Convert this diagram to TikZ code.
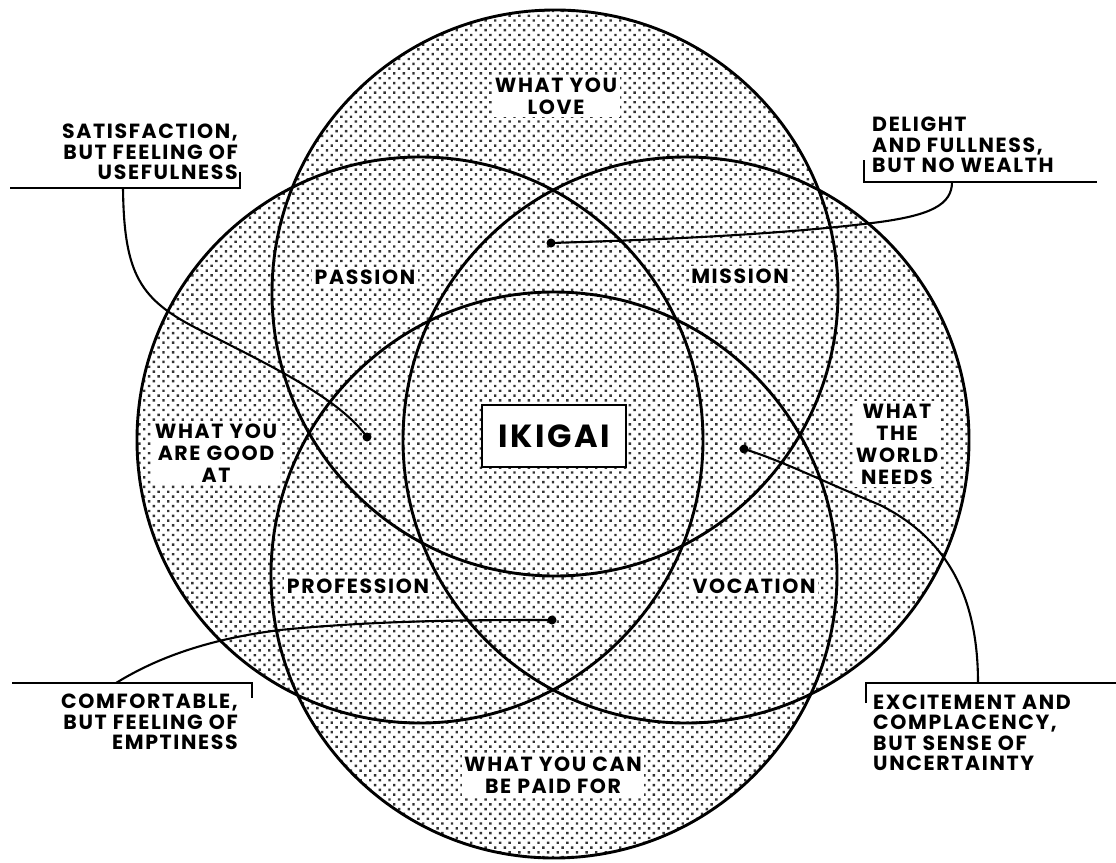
\documentclass[tikz,border=0pt]{standalone}
\usepackage{fontspec}
\setmainfont{Poppins}
\newfontfamily\hand[LetterSpace=8]{Poppins}
\usetikzlibrary{patterns.meta}
\begin{document}
\begin{tikzpicture}[x=1pt,y=-1pt,
  ring/.style={line width=2.9pt},
  dotfill/.style={pattern={Dots[distance=6.8pt,radius=1.7pt,angle=45]},pattern color=black!80},
  lbl/.style={font={\hand\bfseries\fontsize{20.5}{22}\selectfont}, fill=white, inner sep=2.5pt, align=center},
  note/.style={font={\hand\bfseries\fontsize{20.5}{20.5}\selectfont}, inner sep=0pt},
  leader/.style={line width=2.1pt},
  bracket/.style={line width=2.5pt},
  bullet/.style={circle, fill=black, inner sep=0pt, minimum size=9pt}]
\useasboundingbox (0,0) rectangle (1116,862);
% circles
\coordinate (ct) at (555,293);
\coordinate (cl) at (420,440);
\coordinate (cr) at (686,440);
\coordinate (cb) at (554,575);
\fill[dotfill] (ct) circle[radius=283] (cl) circle[radius=283] (cr) circle[radius=283] (cb) circle[radius=283];
% labels in circles
\node[lbl] (love) at (556,96) {WHAT YOU\\LOVE};
\node[lbl] (passion) at (365,277) {PASSION};
\node[lbl] (mission) at (740,276) {MISSION};
\node[lbl] (good) at (216,453) {WHAT YOU\\ARE GOOD\\AT};
\node[lbl] (world) at (897,444) {WHAT\\THE\\WORLD\\NEEDS};
\node[lbl] (profession) at (358,586) {PROFESSION};
\node[lbl] (vocation) at (754,586) {VOCATION};
\node[lbl] (paid) at (553,775) {WHAT YOU CAN\\BE PAID FOR};
% callout texts
\node[note, anchor=east, align=right] (satis) at (238,152) {SATISFACTION,\\BUT FEELING OF\\USEFULNESS};
\node[note, anchor=west, align=left] (delight) at (872,145) {DELIGHT\\AND FULLNESS,\\BUT NO WEALTH};
\node[note, anchor=east, align=right] (comfort) at (238,722) {COMFORTABLE,\\BUT FEELING OF\\EMPTINESS};
\node[note, anchor=west, align=left] (excite) at (873,733) {EXCITEMENT AND\\COMPLACENCY,\\BUT SENSE OF\\UNCERTAINTY};
% brackets
\draw[bracket] (10,188) -- (240,188) -- (240,172);
\draw[bracket] (864,160) -- (864,182) -- (1097,182);
\draw[bracket] (12,683) -- (252,683) -- (252,698);
\draw[bracket] (866,703) -- (866,683) -- (1116,683);
\coordinate (satisA) at (123,188);
\coordinate (delightA) at (952,182);
\coordinate (comfortA) at (116,683);
\coordinate (exciteA) at (978,683);
% bullets
\node[bullet] (dTop) at (551,243) {};
\node[bullet] (dLeft) at (367,437) {};
\node[bullet] (dRight) at (744,449) {};
\node[bullet] (dBot) at (552,620) {};
% leaders
\draw[leader] (satisA) .. controls (124,275) and (140,300) .. (200,330) .. controls (280,370) and (340,400) .. (dLeft.center);
\draw[leader] (delightA) .. controls (952,205) and (930,215) .. (880,222) .. controls (780,235) and (650,240) .. (dTop.center);
\draw[leader] (comfortA) .. controls (150,662) and (200,640) .. (280,630) .. controls (380,620) and (480,620) .. (dBot.center);
\draw[leader] (exciteA) .. controls (978,600) and (950,540) .. (880,505) .. controls (820,480) and (780,460) .. (dRight.center);
% outlines
\foreach \c in {ct,cl,cr,cb} \draw[ring] (\c) circle[radius=283];
% ikigai
\node[draw, line width=2.2pt, fill=white, minimum width=144, minimum height=62, font={\hand\bfseries\fontsize{32}{34}\selectfont}] (ikigai) at (554,436) {IKIGAI};
\end{tikzpicture}
\end{document}
